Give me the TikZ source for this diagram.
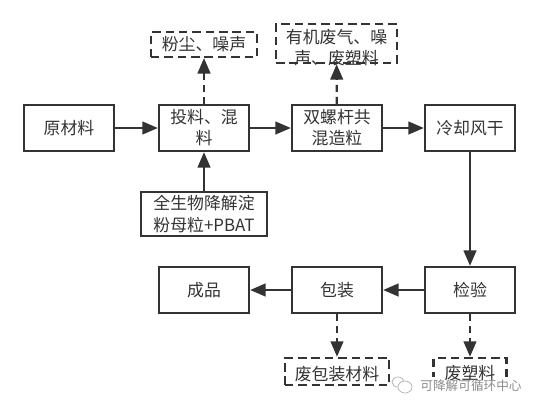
\documentclass[tikz,border=0pt]{standalone}
\usepackage{fontspec}
\setmainfont{Noto Sans CJK SC}
\usetikzlibrary{arrows.meta}
\definecolor{ink}{HTML}{333333}
\tikzset{
  flowbox/.style={draw=ink,line width=1.6pt,text=ink,align=center,inner sep=0pt,
    minimum width=2.25cm,minimum height=1.15cm,font=\fontsize{12}{15}\selectfont},
  wastebox/.style={flowbox,dash pattern=on 6pt off 3.5pt},
  plaintext/.style={text=ink,align=center,inner sep=0pt,font=\fontsize{12}{15}\selectfont},
  flow/.style={draw=ink,line width=1.6pt,-{Triangle[length=11pt,width=9pt]}},
  wasteflow/.style={flow,dash pattern=on 5pt off 3.5pt},
  wmark/.style={text=black!45,inner sep=0pt,font=\fontsize{9}{10}\selectfont}
}
\begin{document}
\begin{tikzpicture}[x=0.025cm,y=-0.025cm]
\useasboundingbox (0,0) rectangle (540,410);
\node[flowbox] (raw) at (69,128) {原材料};
\node[flowbox] (feed) at (204,128) {投料、混\\料};
\node[flowbox] (screw) at (337,128) {双螺杆共\\混造粒};
\node[flowbox] (cool) at (470,128) {冷却风干};
\node[flowbox,minimum width=3.15cm,minimum height=1.1cm] (pbat) at (204,214) {全生物降解淀\\粉母粒+PBAT};
\node[flowbox] (check) at (470,290) {检验};
\node[flowbox] (pack) at (337,290) {包装};
\node[flowbox] (product) at (204,290) {成品};
\node[wastebox,minimum width=2.65cm,minimum height=0.62cm] (dust) at (204,44.5) {粉尘、噪声};
\node[wastebox,minimum width=3.02cm,minimum height=0.98cm] (gas) at (336.5,43.5) {};
\node[plaintext] (gastext) at (336.5,47.5) {有机废气、噪\\声、废塑料};
\node[wastebox,minimum width=2.6cm,minimum height=0.68cm] (wpack) at (337,371.5) {};
\node[plaintext] (wpacktext) at (337,374) {废包装材料};
\node[wastebox,minimum width=1.82cm,minimum height=0.68cm] (wplastic) at (470,371.5) {};
\draw[flow] (raw)--(feed);
\draw[flow] (feed)--(screw);
\draw[flow] (screw)--(cool);
\draw[flow] (cool)--(check);
\draw[flow] (check)--(pack);
\draw[flow] (pack)--(product);
\draw[flow] (pbat)--(feed);
\draw[wasteflow] (feed)--(dust);
\draw[wasteflow] (screw)--(gas);
\draw[wasteflow] (pack)--(wpack);
\draw[wasteflow] (check)--(wplastic);
\fill[white] (425,377) rectangle (526,392);
\node[plaintext] (wplastictext) at (470,373) {废塑料};
\node[wmark] (wechat) at (471,385.5) {可降解可循环中心};
\draw[black!30,fill=white,line width=0.5pt] (398,382) ellipse (6 and 5);
\draw[black!30,fill=white,line width=0.5pt] (405,387) ellipse (7 and 6);
\end{tikzpicture}
\end{document}
